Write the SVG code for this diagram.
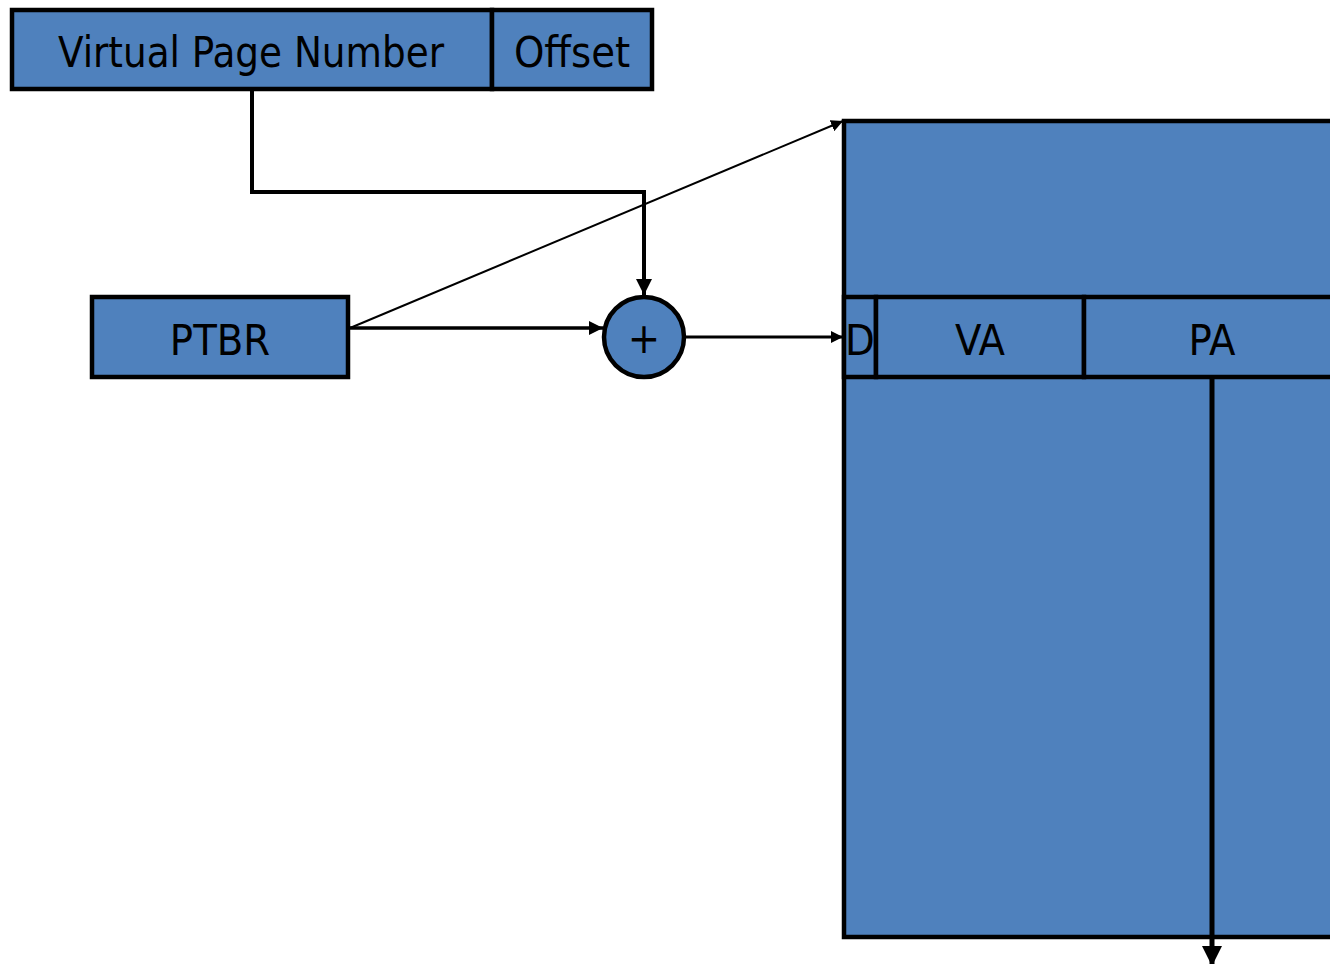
<svg xmlns="http://www.w3.org/2000/svg" width="1330" height="964" viewBox="0 0 1330 964">
  <style>
    .box { fill: #4F81BD; stroke: #000; stroke-width: 4.5; }
    .lbl { font-family: "DejaVu Sans Condensed", "DejaVu Sans", sans-serif; font-size: 43px; fill: #000; text-anchor: middle; }
    .wire { fill: none; stroke: #000; }
  </style>
  <defs>
    <marker id="arr" viewBox="0 0 10 10" refX="10" refY="5" markerWidth="4" markerHeight="4" orient="auto" markerUnits="strokeWidth">
      <path d="M0,0 L10,5 L0,10 z" fill="#000"/>
    </marker>
    <marker id="arrThin" viewBox="0 0 10 10" refX="10" refY="5" markerWidth="6" markerHeight="6" orient="auto" markerUnits="strokeWidth">
      <path d="M0,0 L10,5 L0,10 z" fill="#000"/>
    </marker>
  </defs>

  <!-- virtual address: page number + offset fields -->
  <g id="vaddr">
    <rect class="box" x="12" y="10" width="480" height="79"/>
    <text class="lbl" x="251" y="67" textLength="386" lengthAdjust="spacingAndGlyphs">Virtual Page Number</text>
    <rect class="box" x="492" y="10" width="160" height="79"/>
    <text class="lbl" x="572" y="67">Offset</text>
  </g>

  <!-- page table base register -->
  <g id="ptbr">
    <rect class="box" x="92" y="297" width="256" height="80"/>
    <text class="lbl" x="220" y="355">PTBR</text>
  </g>

  <!-- adder -->
  <g id="adder">
    <circle class="box" cx="644" cy="337" r="40"/>
    <text class="lbl" x="644" y="353">+</text>
  </g>

  <!-- page table with one selected entry -->
  <g id="pagetable">
    <rect class="box" x="844" y="121" width="500" height="816"/>
    <rect class="box" x="844" y="297" width="32" height="80"/>
    <rect class="box" x="876" y="297" width="208" height="80"/>
    <rect class="box" x="1084" y="297" width="260" height="80"/>
    <text class="lbl" x="860" y="355">D</text>
    <text class="lbl" x="980" y="355">VA</text>
    <text class="lbl" x="1212" y="355">PA</text>
  </g>

  <g id="connectors">
    <polyline class="wire" stroke-width="4" points="252,89 252,192 644,192 644,295" marker-end="url(#arr)"/>
    <line class="wire" stroke-width="3.5" x1="348" y1="328" x2="603" y2="328" marker-end="url(#arr)"/>
    <line class="wire" stroke-width="2" x1="350" y1="328" x2="843" y2="121" marker-end="url(#arrThin)"/>
    <line class="wire" stroke-width="3" x1="686" y1="337" x2="843" y2="337" marker-end="url(#arr)"/>
    <line class="wire" stroke-width="5" x1="1212" y1="377" x2="1212" y2="966" marker-end="url(#arr)"/>
  </g>
</svg>
